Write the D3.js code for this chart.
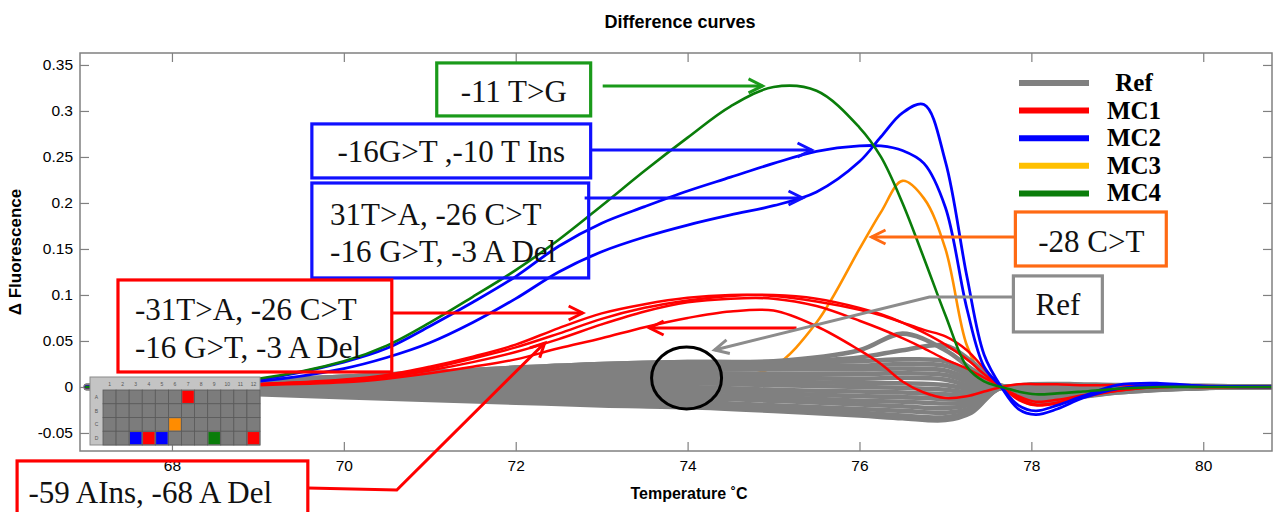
<!DOCTYPE html>
<html><head><meta charset="utf-8">
<script src="https://cdn.jsdelivr.net/npm/d3@7"></script>
<style>body{margin:0;background:#fff;} svg{display:block;}</style>
</head><body><svg id="c" width="1273" height="512"></svg>
<script>
// ---------- data ----------
const mcTemps = [67, 68, 69, 70, 70.5, 71, 71.5, 72, 72.5, 73, 73.5, 74, 74.5, 75, 75.5, 76, 76.25, 76.5, 76.75, 77, 77.25, 77.45, 77.65, 77.85, 78.05, 78.3, 78.6, 79, 79.5, 80, 80.8];
const mc1a = [0, 0.001, 0.003, 0.008, 0.013, 0.022, 0.033, 0.046, 0.064, 0.08, 0.09, 0.097, 0.1, 0.099, 0.093, 0.084, 0.078, 0.07, 0.062, 0.055, 0.04, 0.02, 0, -0.012, -0.019, -0.017, -0.01, -0.004, 0, 0, 0];
const mc1b = [0, 0.001, 0.003, 0.007, 0.012, 0.02, 0.031, 0.043, 0.058, 0.074, 0.086, 0.094, 0.099, 0.1, 0.096, 0.086, 0.079, 0.07, 0.059, 0.046, 0.03, 0.014, 0, -0.01, -0.016, -0.014, -0.009, -0.003, 0, 0, 0];
const mc1c = [0, 0.001, 0.003, 0.007, 0.011, 0.018, 0.027, 0.038, 0.052, 0.068, 0.082, 0.092, 0.096, 0.096, 0.088, 0.072, 0.063, 0.053, 0.042, 0.03, 0.02, 0.01, 0, -0.014, -0.02, -0.018, -0.011, -0.004, 0, 0, 0];
const mc1d = [0, 0.001, 0.002, 0.005, 0.009, 0.015, 0.022, 0.03, 0.042, 0.053, 0.065, 0.075, 0.082, 0.083, 0.066, 0.04, 0.025, 0.006, -0.006, -0.012, -0.01, -0.005, 0, 0.003, 0.003, 0.003, 0.002, 0.002, 0.001, 0.001, 0];
const mc2a = [0, 0.002, 0.008, 0.027, 0.042, 0.066, 0.092, 0.12, 0.153, 0.178, 0.196, 0.213, 0.228, 0.243, 0.256, 0.262, 0.262, 0.257, 0.243, 0.195, 0.085, 0.022, 0, -0.02, -0.026, -0.02, -0.01, 0.002, 0.004, 0.001, 0];
const mc2b = [0, 0.001, 0.006, 0.02, 0.032, 0.048, 0.07, 0.096, 0.125, 0.147, 0.163, 0.176, 0.187, 0.197, 0.212, 0.245, 0.272, 0.298, 0.307, 0.245, 0.12, 0.035, 0, -0.024, -0.03, -0.024, -0.012, -0.002, 0.002, 0.001, 0];
const mc3 = [0, 0, 0, 0, 0, 0, 0, 0, 0.001, 0.002, 0.004, 0.006, 0.01, 0.022, 0.07, 0.15, 0.19, 0.224, 0.205, 0.15, 0.045, 0.01, 0, -0.01, -0.014, -0.012, -0.007, -0.002, 0, 0, 0];
const mc4 = [0, 0.002, 0.009, 0.028, 0.045, 0.07, 0.098, 0.127, 0.16, 0.197, 0.235, 0.271, 0.305, 0.326, 0.322, 0.282, 0.25, 0.2, 0.14, 0.078, 0.022, 0.006, 0, -0.005, -0.008, -0.007, -0.005, -0.002, 0, 0, 0];

const refTemps = [67, 68, 69, 70, 71, 72, 73, 74, 75, 76, 76.5, 77, 77.3, 77.65, 78, 78.5, 79, 80, 80.8];
const ref01 = [0.001,0.004,0.007,0.011,0.016,0.021,0.025,0.027,0.027,0.028,0.030,0.028,0.015,0.001,0.003,0.003,0.002,0.001,0];
const ref02 = [0.001,0.003,0.006,0.009,0.014,0.018,0.021,0.023,0.023,0.023,0.025,0.023,0.012,0.001,0.001,0.002,0.001,0.001,0];
const ref03 = [0.001,0.003,0.005,0.007,0.011,0.015,0.018,0.019,0.019,0.019,0.020,0.018,0.008,0.001,0.000,0.001,0.001,0.001,0];
const ref04 = [0,0.002,0.003,0.006,0.009,0.012,0.014,0.015,0.014,0.014,0.015,0.013,0.005,0,-0.002,-0.001,0,0,0];
const ref05 = [0,0.001,0.002,0.004,0.006,0.009,0.011,0.011,0.010,0.009,0.010,0.008,0.001,0,-0.004,-0.002,-0.001,0,0];
const ref06 = [0,0.001,0.001,0.002,0.004,0.006,0.007,0.007,0.006,0.004,0.004,0.002,-0.002,0,-0.005,-0.003,-0.001,0,0];
const ref07 = [0,0,0,0,0.002,0.003,0.003,0.004,0.002,0,-0.001,-0.003,-0.006,0,-0.007,-0.004,-0.002,0,0];
const ref08 = [0,-0.001,-0.001,-0.001,-0.001,0,0,0,-0.003,-0.005,-0.006,-0.008,-0.009,0,-0.009,-0.005,-0.003,0,0];
const ref09 = [0,-0.001,-0.003,-0.003,-0.003,-0.003,-0.004,-0.004,-0.007,-0.010,-0.011,-0.013,-0.013,0,-0.010,-0.007,-0.003,0,0];
const ref10 = [0,-0.002,-0.004,-0.005,-0.006,-0.006,-0.007,-0.008,-0.011,-0.015,-0.016,-0.018,-0.016,0,-0.012,-0.008,-0.004,-0.001,0];
const ref11 = [-0.001,-0.002,-0.005,-0.007,-0.008,-0.009,-0.011,-0.012,-0.015,-0.019,-0.021,-0.023,-0.019,0,-0.014,-0.009,-0.004,-0.001,0];
const ref12 = [-0.001,-0.003,-0.006,-0.008,-0.010,-0.012,-0.015,-0.016,-0.020,-0.024,-0.026,-0.028,-0.023,-0.001,-0.015,-0.010,-0.005,-0.001,0];
const ref13 = [-0.001,-0.004,-0.007,-0.010,-0.013,-0.015,-0.018,-0.020,-0.023,-0.028,-0.031,-0.033,-0.026,-0.001,-0.017,-0.011,-0.006,-0.001,0];
const ref14 = [-0.001,-0.004,-0.008,-0.011,-0.014,-0.017,-0.020,-0.022,-0.026,-0.031,-0.034,-0.036,-0.028,-0.001,-0.018,-0.012,-0.006,-0.001,0];
const ref15 = [0.001,0.004,0.007,0.011,0.016,0.021,0.025,0.027,0.028,0.040,0.058,0.040,0.020,0.001,0.002,0.002,0.001,0,0];
const ref16 = [0.001,0.004,0.007,0.011,0.016,0.020,0.024,0.026,0.027,0.032,0.040,0.045,0.028,0.001,0.002,0.002,0.001,0,0];

const xTicks = [68, 70, 72, 74, 76, 78, 80];
const xTickLabels = ["68", "70", "72", "74", "76", "78", "80"];
const yTicks = [-0.05, 0, 0.05, 0.1, 0.15, 0.2, 0.25, 0.3, 0.35];
const yTickLabels = ["-0.05", "0", "0.05", "0.1", "0.15", "0.2", "0.25", "0.3", "0.35"];

const legendLabels = ["Ref", "MC1", "MC2", "MC3", "MC4"];
const legendColors = ["#808080", "#ff0000", "#0000ff", "#ffc000", "#0a7d0a"];

const plateRows = ["A", "B", "C", "D"];
const plateCols = [1,2,3,4,5,6,7,8,9,10,11,12];
const plateWells = [
  {row:"A", col:7, color:"#ff0000"},
  {row:"C", col:6, color:"#ff8c00"},
  {row:"D", col:3, color:"#0000ff"},
  {row:"D", col:4, color:"#ff0000"},
  {row:"D", col:5, color:"#0000ff"},
  {row:"D", col:9, color:"#0a7d0a"},
  {row:"D", col:12, color:"#ff0000"}
];

// annotations in data coordinates [T, value]
const annBoxes = [
  {x0:71.081, x1:72.872, y0:0.3522, y1:0.2946, color:"#1a9a1a", lines:["-11 T>G"], tx:71.977, ty:[0.3098], anchor:"middle"},
  {x0:69.628, x1:72.872, y0:0.2859, y1:0.2272, color:"#1010ff", lines:["-16G>T ,-10 T Ins"], tx:71.25, ty:[0.2446], anchor:"middle"},
  {x0:69.628, x1:72.849, y0:0.2217, y1:0.1185, color:"#1010ff", lines:["31T>A, -26 C>T", "-16 G>T, -3 A Del"], tx:69.84, ty:[0.1761, 0.1359], anchor:"start"},
  {x0:67.372, x1:70.558, y0:0.1163, y1:0.0163, color:"#ff0000", lines:["-31T>A, -26 C>T", "-16 G>T, -3 A Del"], tx:67.57, ty:[0.0728, 0.0315], anchor:"start"},
  {x0:66.198, x1:69.581, y0:-0.0804, y1:-0.1446, color:"#ff0000", lines:["-59 AIns, -68 A Del"], tx:66.33, ty:[-0.1261], anchor:"start"},
  {x0:77.814, x1:79.570, y0:0.1902, y1:0.1315, color:"#ff6a13", lines:["-28 C>T"], tx:78.698, ty:[0.1467], anchor:"middle"},
  {x0:77.791, x1:78.826, y0:0.1207, y1:0.0598, color:"#8c8c8c", lines:["Ref"], tx:78.31, ty:[0.0783], anchor:"middle"}
];
const annArrows = [
  {color:"#1a9a1a", pts:[[73.012,0.3272],[74.872,0.3272]]},
  {color:"#1010ff", pts:[[72.872,0.2576],[75.442,0.2576]]},
  {color:"#1010ff", pts:[[72.802,0.2054],[75.337,0.2054]]},
  {color:"#ff0000", pts:[[70.558,0.0804],[72.779,0.0804]]},
  {color:"#ff0000", pts:[[75.267,0.0641],[73.558,0.0641]]},
  {color:"#ff0000", pts:[[69.581,-0.1098],[70.616,-0.112],[72.337,0.0478]]},
  {color:"#ff6a13", pts:[[77.814,0.163],[76.14,0.163]]},
  {color:"#8c8c8c", pts:[[77.791,0.0978],[76.814,0.0978],[74.314,0.0402]]}
];
const circleCenter = [73.988, 0.0098];

// ---------- drawing ----------
const svg = d3.select("#c");
const L = 80, R = 1272, T = 53, B = 451;
const x = d3.scaleLinear().domain([66.93, 80.8]).range([L, R]);
const y = d3.scaleLinear().domain([-0.0696, 0.363]).range([B, T]);
const sans = "'Liberation Sans', Arial, sans-serif";
const serif = "'Liberation Serif', 'Times New Roman', serif";
const frameColor = "#808080";

svg.append("rect").attr("width",1273).attr("height",512).attr("fill","#fff");

const defs = svg.append("defs");
defs.append("clipPath").attr("id","plot").append("rect").attr("x",L).attr("y",T).attr("width",R-L).attr("height",B-T);

// axes
function styleAxis(g){
  g.select(".domain").remove();
  g.selectAll(".tick line").attr("stroke", frameColor).attr("stroke-width",1.2);
  g.selectAll(".tick text").attr("fill","#000").style("font-family", sans).style("font-size","15.5px");
}
svg.append("g").attr("transform",`translate(0,${B})`)
  .call(d3.axisBottom(x).tickValues(xTicks).tickFormat((d,i)=>xTickLabels[i]).tickSizeInner(-9).tickSizeOuter(0).tickPadding(9))
  .call(styleAxis);
svg.append("g").attr("transform",`translate(0,${T})`)
  .call(d3.axisTop(x).tickValues(xTicks).tickFormat("").tickSizeInner(-9).tickSizeOuter(0))
  .call(styleAxis);
svg.append("g").attr("transform",`translate(${L},0)`)
  .call(d3.axisLeft(y).tickValues(yTicks).tickFormat((d,i)=>yTickLabels[i]).tickSizeInner(-9).tickSizeOuter(0).tickPadding(7))
  .call(styleAxis);
svg.append("g").attr("transform",`translate(${R},0)`)
  .call(d3.axisRight(y).tickValues(yTicks).tickFormat("").tickSizeInner(-9).tickSizeOuter(0))
  .call(styleAxis);

// curves
const line = d3.line().x(d=>x(d[0])).y(d=>y(d[1])).curve(d3.curveCatmullRom.alpha(0.5));
const curves = svg.append("g").attr("clip-path","url(#plot)").attr("fill","none").attr("stroke-linejoin","round").attr("stroke-linecap","round");
function draw(temps, vals, color, w){
  curves.append("path").attr("d", line(temps.map((t,i)=>[t, vals[i]]))).attr("stroke", color).attr("stroke-width", w);
}
draw(mcTemps, mc3, "#ff9000", 2.6);
[ref01,ref02,ref03,ref04,ref05,ref06,ref07,ref08,ref09,ref10,ref11,ref12,ref13,ref14,ref15,ref16]
  .forEach(r => draw(refTemps, r, "#808080", 4.6));
[mc1a, mc1b, mc1c, mc1d].forEach(r => draw(mcTemps, r, "#ff0000", 2.5));
draw(mcTemps, mc2a, "#0000ff", 2.8);
draw(mcTemps, mc2b, "#0000ff", 2.8);
draw(mcTemps, mc4, "#0a7d0a", 2.6);

// frame
svg.append("rect").attr("x",L).attr("y",T).attr("width",R-L).attr("height",B-T)
  .attr("fill","none").attr("stroke",frameColor).attr("stroke-width",1.5);

// titles
svg.append("text").attr("x",680).attr("y",28).attr("text-anchor","middle")
  .style("font-family",sans).style("font-weight","bold").style("font-size","18px").text("Difference curves");
svg.append("text").attr("transform","translate(21,252) rotate(-90)").attr("text-anchor","middle")
  .style("font-family",sans).style("font-weight","bold").style("font-size","17px").text("Δ Fluorescence");
svg.append("text").attr("x",689).attr("y",499).attr("text-anchor","middle")
  .style("font-family",sans).style("font-weight","bold").style("font-size","16px").text("Temperature ˚C");

// legend
const lg = svg.append("g");
legendLabels.forEach((lab,i)=>{
  const yy = 83 + i*27.6;
  lg.append("line").attr("x1",1019).attr("x2",1089).attr("y1",yy).attr("y2",yy)
    .attr("stroke",legendColors[i]).attr("stroke-width",6);
  lg.append("text").attr("x",1134).attr("y",yy+8).attr("text-anchor","middle")
    .style("font-family",serif).style("font-weight","bold").style("font-size","25px").text(lab);
});

// annotations
const ann = svg.append("g");
annBoxes.forEach(b=>{
  ann.append("rect").attr("x",x(b.x0)).attr("y",y(b.y0)).attr("width",x(b.x1)-x(b.x0)).attr("height",y(b.y1)-y(b.y0))
    .attr("fill","none").attr("stroke",b.color).attr("stroke-width",3.2);
  b.lines.forEach((t,i)=>{
    ann.append("text").attr("x",x(b.tx)).attr("y",y(b.ty[i])).attr("text-anchor",b.anchor)
      .style("font-family",serif).style("font-size","31px").attr("fill","#111").text(t);
  });
});
annArrows.forEach(a=>{
  const p = a.pts.map(d=>[x(d[0]), y(d[1])]);
  ann.append("path").attr("d", d3.line()(p)).attr("fill","none").attr("stroke",a.color).attr("stroke-width",3);
  const [x2,y2] = p[p.length-1], [x1,y1] = p[p.length-2];
  const len = Math.hypot(x2-x1,y2-y1), ux=(x2-x1)/len, uy=(y2-y1)/len, nx=-uy, ny=ux;
  const hl=14, hw=7;
  ann.append("path").attr("d", `M${x2-hl*ux+hw*nx},${y2-hl*uy+hw*ny}L${x2},${y2}L${x2-hl*ux-hw*nx},${y2-hl*uy-hw*ny}`)
    .attr("fill","none").attr("stroke",a.color).attr("stroke-width",3).attr("stroke-linejoin","miter");
});
ann.append("ellipse").attr("cx",x(circleCenter[0])).attr("cy",y(circleCenter[1])).attr("rx",35).attr("ry",31)
  .attr("fill","none").attr("stroke","#000").attr("stroke-width",3);

// plate inset
const pg = svg.append("g").attr("transform","translate(90,377)");
const PW = 170, PH = 68, HD = 13;
const cx = d3.scaleBand().domain(plateCols).range([HD, PW]);
const ry = d3.scaleBand().domain(plateRows).range([HD, PH]);
pg.append("rect").attr("width",PW).attr("height",PH).attr("fill","#c4c4c4").attr("stroke","#8a8a8a").attr("stroke-width",1);
plateCols.forEach(c=>{
  pg.append("text").attr("x",cx(c)+cx.bandwidth()/2).attr("y",9).attr("text-anchor","middle")
    .style("font-family",sans).style("font-size","5px").attr("fill","#555").text(c);
});
plateRows.forEach(r=>{
  pg.append("text").attr("x",6.5).attr("y",ry(r)+ry.bandwidth()/2+2).attr("text-anchor","middle")
    .style("font-family",sans).style("font-size","5px").attr("fill","#555").text(r);
  plateCols.forEach(c=>{
    pg.append("rect").attr("x",cx(c)).attr("y",ry(r)).attr("width",cx.bandwidth()).attr("height",ry.bandwidth())
      .attr("fill","#7c7c7c").attr("stroke","#5a5a5a").attr("stroke-width",0.8);
  });
});
plateWells.forEach(w=>{
  pg.append("rect").attr("x",cx(w.col)+0.8).attr("y",ry(w.row)+0.8).attr("width",cx.bandwidth()-1.6).attr("height",ry.bandwidth()-1.6)
    .attr("fill",w.color);
});
</script></body></html>
